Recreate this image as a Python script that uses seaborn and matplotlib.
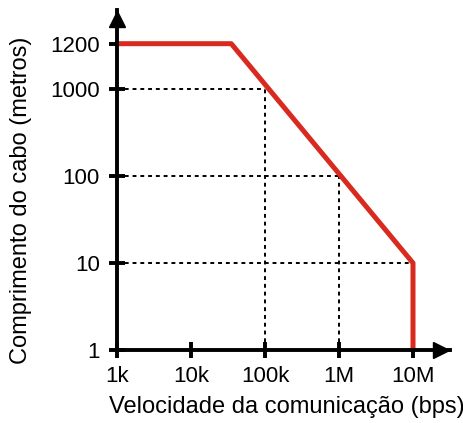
import numpy as np
import pandas as pd
import matplotlib
matplotlib.use("Agg")
import matplotlib.pyplot as plt
import seaborn as sns

# curve (velocidade em bps, comprimento em metros)
speed = [1e3, 35e3, 10e6, 10e6]
length = [1200, 1200, 10, 1]

# dotted guide lines
guide_x = [100e3, 1e6, 10e6]
guide_y = [1000, 100, 10]

xticks = [1e3, 1e4, 1e5, 1e6, 1e7]
xticklabels = ["1k", "10k", "100k", "1M", "10M"]
yticks = [1, 10, 100, 1000, 1200]
yticklabels = ["1", "10", "100", "1000", "1200"]

sns.set_style("white")
plt.rcParams["font.family"] = ["Liberation Sans", "DejaVu Sans"]
plt.rcParams["text.color"] = "black"
plt.rcParams["axes.labelcolor"] = "black"

# log scale, with the part above 1000 stretched (as in the drawing)
K = 6.6
def fwd(y):
    ly = np.log10(np.maximum(y, 1e-9))
    return np.where(ly <= 3, ly, 3 + (ly - 3) * K)

def inv(t):
    return np.where(t <= 3, 10.0 ** t, 10.0 ** (3 + (t - 3) / K))

df = pd.DataFrame({"speed": speed, "length": length})

fig = plt.figure(figsize=(4.64, 4.23), dpi=100)
ax = fig.add_axes([117 / 464, 73 / 423, 333 / 464, 340 / 423])
ax.set_xscale("log")
ax.set_yscale("function", functions=(fwd, inv))

for gx, gy in zip(guide_x, guide_y):
    ax.plot([1e3, gx], [gy, gy], color="black", lw=1.4, ls=(0, (2, 2)))
    ax.plot([gx, gx], [1, gy], color="black", lw=1.4, ls=(0, (2, 2)))

sns.lineplot(data=df, x="speed", y="length", sort=False, estimator=None,
             color="#d92a1f", lw=3.6, ax=ax, zorder=5)

ax.set_xlim(1e3, 10 ** 7.5)
ax.set_ylim(1, float(inv(3.91)))

for s in ["top", "right"]:
    ax.spines[s].set_visible(False)
for s in ["left", "bottom"]:
    ax.spines[s].set_linewidth(2.8)
    ax.spines[s].set_color("black")
    ax.spines[s].set_zorder(6)

ax.set_xticks(xticks)
ax.set_xticklabels(xticklabels)
ax.set_yticks(yticks)
ax.set_yticklabels(yticklabels)
ax.minorticks_off()
ax.tick_params(axis="both", direction="inout", length=11, width=2.8,
               labelsize=16, colors="black", bottom=True, left=True)
ax.tick_params(axis="x", pad=6)
ax.tick_params(axis="y", pad=7)

# arrows on the axes
ax.plot(1 - 9 / 333, 0, ">k", ms=12, transform=ax.transAxes, clip_on=False)
ax.plot(0, 1 - 9 / 340, "^k", ms=12, transform=ax.transAxes, clip_on=False)

ax.set_xlabel("Velocidade da comunicação (bps)", fontsize=17)
ax.set_ylabel("Comprimento do cabo (metros)", fontsize=17)
ax.xaxis.set_label_coords(0.51, -0.135)
ax.yaxis.set_label_coords(-0.255, 0.44)

fig.savefig("out.png", dpi=100)
